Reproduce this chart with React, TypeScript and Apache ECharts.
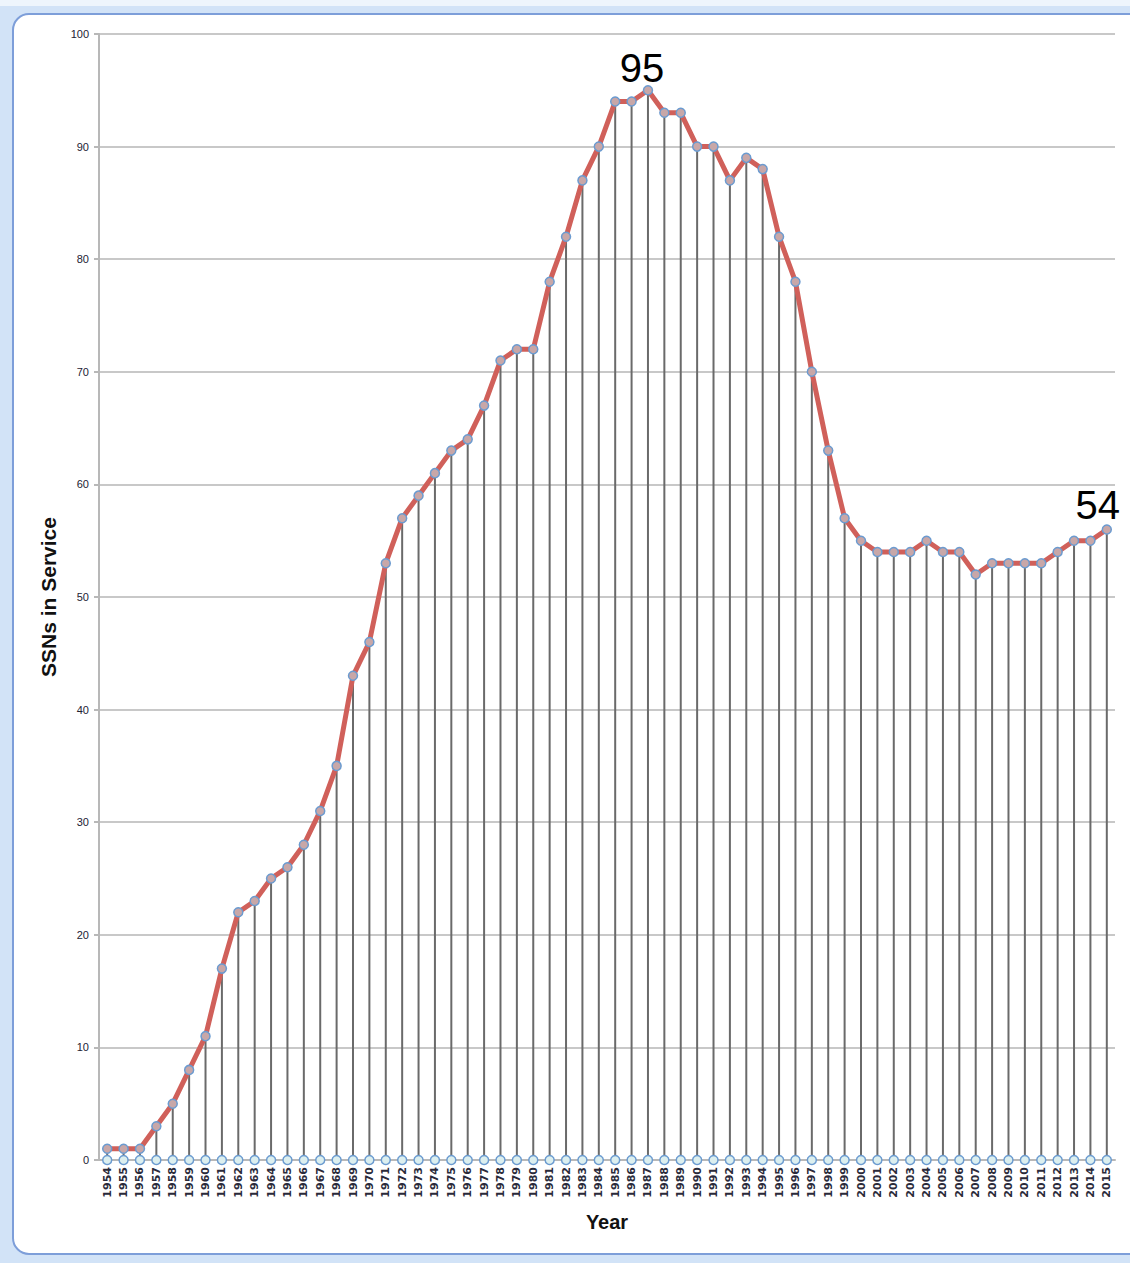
import React, { useEffect, useRef } from "react";
import * as echarts from "echarts";

const years: string[] = [
  "1954","1955","1956","1957","1958","1959","1960","1961","1962","1963",
  "1964","1965","1966","1967","1968","1969","1970","1971","1972","1973",
  "1974","1975","1976","1977","1978","1979","1980","1981","1982","1983",
  "1984","1985","1986","1987","1988","1989","1990","1991","1992","1993",
  "1994","1995","1996","1997","1998","1999","2000","2001","2002","2003",
  "2004","2005","2006","2007","2008","2009","2010","2011","2012","2013",
  "2014","2015",
];

const ssns: number[] = [
  1, 1, 1, 3, 5, 8, 11, 17, 22, 23,
  25, 26, 28, 31, 35, 43, 46, 53, 57, 59,
  61, 63, 64, 67, 71, 72, 72, 78, 82, 87,
  90, 94, 94, 95, 93, 93, 90, 90, 87, 89,
  88, 82, 78, 70, 63, 57, 55, 54, 54, 54,
  55, 54, 54, 52, 53, 53, 53, 53, 54, 55,
  55, 56,
];

const baseline: number[] = years.map(() => 0);

const yTicks = { min: 0, max: 100, interval: 10 };

const annotations = [
  { year: "1987", value: 95, text: "95" },
  { year: "2015", value: 56, text: "54" },
];

export default function App() {
  const ref = useRef<HTMLDivElement>(null);

  useEffect(() => {
    if (!ref.current) return;
    const chart = echarts.init(ref.current, undefined, { renderer: "svg" });
    const W = 1130;
    const H = 1263;
    chart.setOption({
      animation: false,
      backgroundColor: "#ffffff",
      graphic: [
        { type: "rect", z: -100, silent: true, shape: { x: 0, y: 0, width: W, height: H }, style: { fill: "#d2e3f7" } },
        { type: "rect", z: -100, silent: true, shape: { x: 0, y: 0, width: W, height: 6 }, style: { fill: "#eef5fc" } },
        {
          type: "rect", z: -99, silent: true,
          shape: { x: 13, y: 14, width: W + 20, height: 1240, r: [16, 0, 0, 16] },
          style: { fill: "#ffffff", stroke: "#7d9ed9", lineWidth: 2 },
        },
      ],
      grid: { left: 99, right: 15, top: 34, bottom: 103, containLabel: false },
      xAxis: {
        type: "category",
        data: years,
        boundaryGap: true,
        name: "Year",
        nameLocation: "middle",
        nameGap: 52,
        nameTextStyle: { fontFamily: "Liberation Sans", fontWeight: "bold", fontSize: 20, color: "#111" },
        axisLine: { show: true, lineStyle: { color: "#b8b8b8", width: 2 } },
        axisTick: { show: false },
        axisLabel: {
          rotate: 90,
          interval: 0,
          margin: 7,
          fontSize: 11,
          fontWeight: "bold",
          fontFamily: "DejaVu Sans",
          color: "#2a2a3a",
        },
        splitLine: { show: false },
      },
      yAxis: {
        type: "value",
        min: yTicks.min,
        max: yTicks.max,
        interval: yTicks.interval,
        name: "SSNs in Service",
        nameLocation: "middle",
        nameGap: 40,
        nameRotate: 90,
        nameTextStyle: { fontFamily: "Liberation Sans", fontWeight: "bold", fontSize: 21, color: "#111" },
        axisLine: { show: true, lineStyle: { color: "#b8b8b8", width: 2 } },
        axisTick: { show: true, length: 5, lineStyle: { color: "#b8b8b8", width: 2 } },
        axisLabel: { fontSize: 11, fontFamily: "Liberation Sans", color: "#222233", margin: 10 },
        splitLine: { show: true, lineStyle: { color: "#c8c8c8", width: 2 } },
      },
      series: [
        {
          type: "bar",
          data: ssns,
          barWidth: 2,
          z: 1,
          itemStyle: { color: "#6a6a6a" },
          silent: true,
        },
        {
          type: "line",
          data: baseline,
          z: 4,
          symbol: "circle",
          symbolSize: 9,
          showAllSymbol: true,
          lineStyle: { width: 0 },
          itemStyle: { color: "#dcefef", borderColor: "#6b9bd0", borderWidth: 1.5 },
          silent: true,
        },
        {
          type: "line",
          data: ssns,
          z: 3,
          symbol: "circle",
          symbolSize: 9,
          showAllSymbol: true,
          lineStyle: { color: "#d0605a", width: 5 },
          itemStyle: { color: "#c8a7a8", borderColor: "#6b9bd0", borderWidth: 1.5 },
          silent: true,
          markPoint: {
            symbol: "circle",
            symbolSize: 0,
            data: annotations.map((a, i) => ({
              coord: [a.year, a.value],
              value: a.text,
              label: {
                show: true,
                formatter: a.text,
                fontSize: 40,
                fontFamily: "Liberation Sans",
                color: "#000",
                offset: i === 0 ? [-6, -22] : [-9, -24],
              },
            })),
          },
        },
      ],
    });
    return () => chart.dispose();
  }, []);

  return (
    <div
      ref={ref}
      style={{ position: "absolute", left: 0, top: 0, width: 1130, height: 1263 }}
    />
  );
}
